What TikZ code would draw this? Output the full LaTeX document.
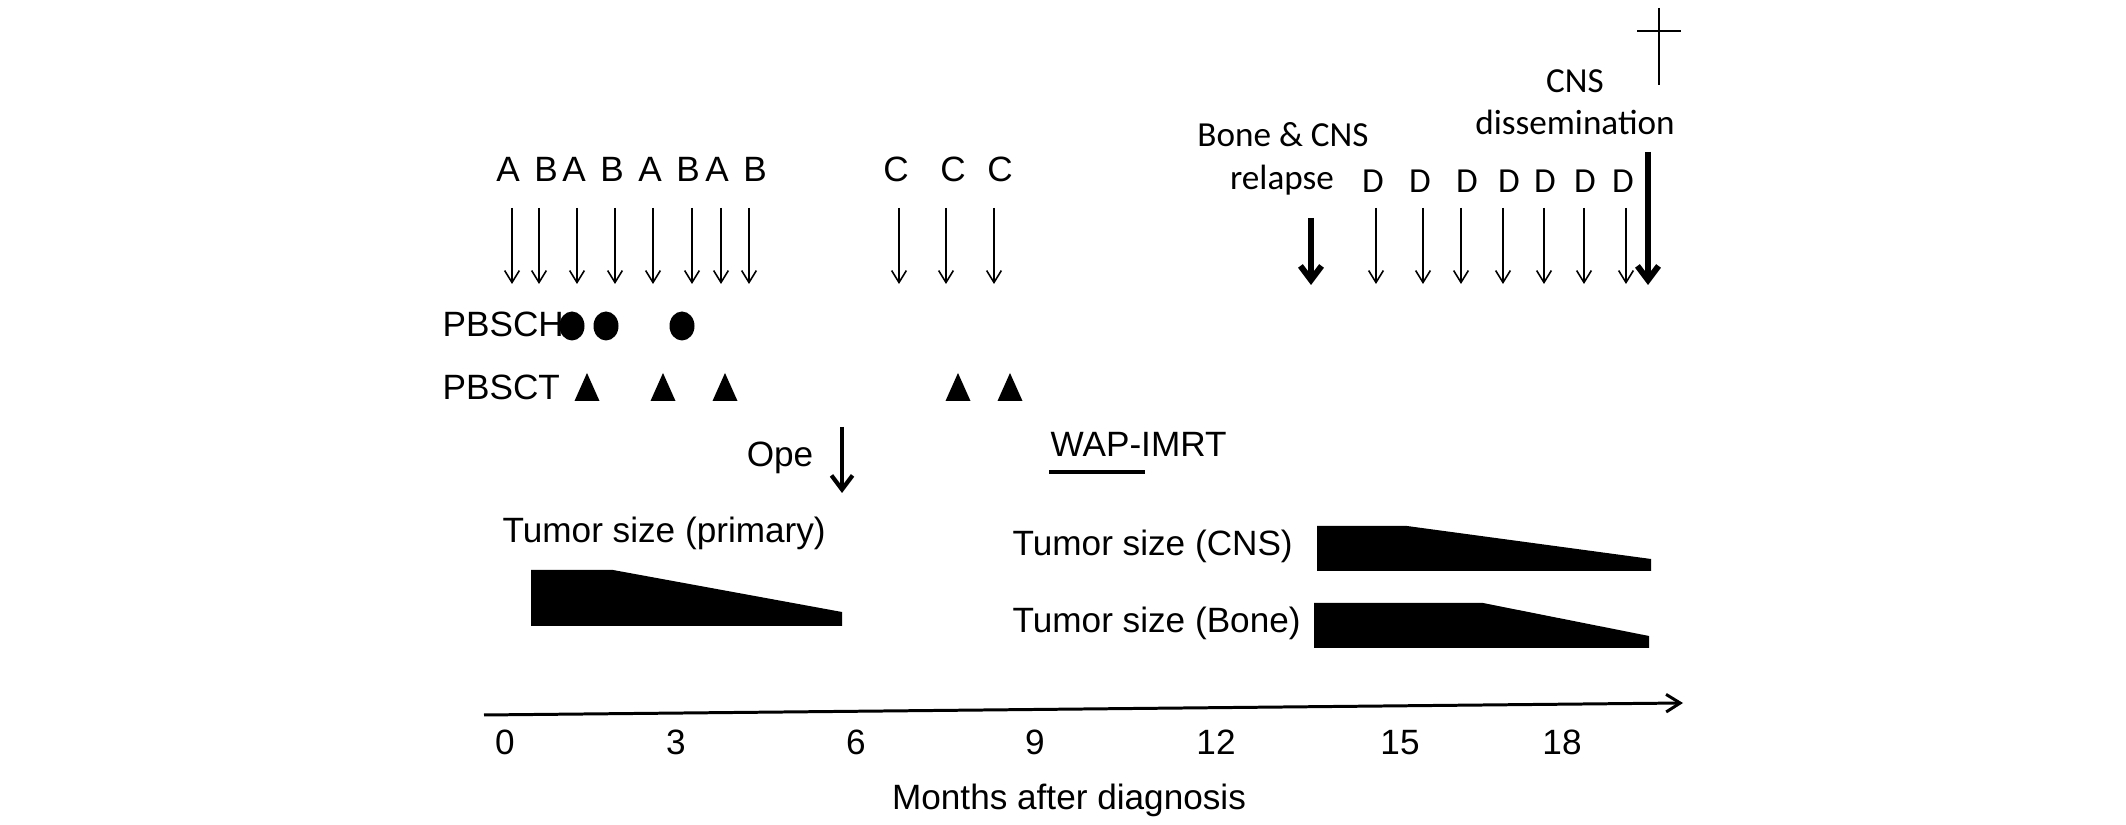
\documentclass[tikz,border=0pt]{standalone}
\usepackage{fontspec}
\setmainfont{Liberation Sans}
\newfontfamily\calib{Carlito}
\usetikzlibrary{arrows.meta}

\begin{document}
\begin{tikzpicture}[x=0.01cm,y=-0.01cm,
		every node/.style={inner sep=0pt,anchor=base,font=\fontsize{10}{12}\selectfont},
		cal/.style={font=\calib\fontsize{10}{12}\selectfont},
		dose/.style={line width=0.45pt,-{Straight Barb[length=3.4pt,width=4.2pt]}},
		event/.style={line width=1.7pt,-{Straight Barb[length=4pt,width=6pt]}},
		tumor/.style={fill=black}]
	\useasboundingbox (0,0) rectangle (2126,825);

	% chemotherapy courses
	\foreach \lx/\ax/\l [count=\i] in {508/512/A,546/539/B,574/577/A,612/615/B,650/653/A,688/692/B,717/721/A,755/749/B,896/899/C,953/946/C,1000/994/C}{
		\node (crs\i) at (\lx,182) {\l};
		\draw[dose] (\ax,208) -- (\ax,284);
	}
	\foreach \lx/\ax [count=\i] in {1373/1376,1420/1423,1467/1461,1509/1503,1545/1544,1585/1584,1623/1626}{
		\node[cal] (dcrs\i) at (\lx,193) {D};
		\draw[dose] (\ax,208) -- (\ax,284);
	}

	% relapse and dissemination
	\node[cal] (bcr)	at (1283,147)	{Bone \& CNS};
	\node[cal] (rel)	at (1282,190)	{relapse};
	\node[cal] (cns)	at (1575,93)	{CNS};
	\node[cal] (dis)	at (1575,135)	{dissemination};
	\coordinate (relt) at (1311,218);
	\coordinate (relh) at (1311,285);
	\coordinate (dist) at (1648,152);
	\coordinate (dish) at (1648,285);
	\draw[event] (relt) -- (relh);
	\draw[event] (dist) -- (dish);
	\draw[line width=0.6pt] (1659,8) -- (1659,85) (1637,31) -- (1681,31);

	% stem cell harvest / transplant
	\node[anchor=base west] (pbsch) at (442,337) {PBSCH};
	\node[anchor=base west] (pbsct) at (442,400) {PBSCT};
	\foreach \x in {572,606,682}
		\fill (\x,326) ellipse [x radius=12.5,y radius=14.5];
	\foreach \x in {587,663,725,958,1010}
		\fill (\x-12.5,401) -- (\x+12.5,401) -- (\x,373) -- cycle;

	% operation and radiotherapy
	\node (ope) at (780,467) {Ope};
	\coordinate (opet) at (842,427);
	\coordinate (opeh) at (842,493);
	\draw[line width=1.2pt,-{Straight Barb[length=4pt,width=6pt]}] (opet) -- (opeh);
	\node[anchor=base west] (wap) at (1050,457) {WAP-IMRT};
	\draw[line width=1.4pt] (1049,472) -- (1145,472);

	% tumor size
	\node[anchor=base west] (tprim) at (502,543) {Tumor size (primary)};
	\node[anchor=base west] (tcns) at (1012,556) {Tumor size (CNS)};
	\node[anchor=base west] (tbone) at (1012,633) {Tumor size (Bone)};
	\fill[tumor] (531,570) -- (613,570) -- (842,612) -- (842,626) -- (531,626) -- cycle;
	\fill[tumor] (1317,526) -- (1407,526) -- (1651,559) -- (1651,571) -- (1317,571) -- cycle;
	\fill[tumor] (1314,603) -- (1483,603) -- (1649,636) -- (1649,648) -- (1314,648) -- cycle;

	% time axis
	\coordinate (ax0) at (484,715);
	\coordinate (ax1) at (1683,703);
	\draw[line width=0.85pt,-{Straight Barb[length=4pt,width=5pt]}] (ax0) -- (ax1);
	\foreach \x/\m in {505/0,676/3,856/6,1035/9,1216/12,1400/15,1562/18}
		\node (m\m) at (\x,755) {\m};
	\node (mlab) at (1069,810) {Months after diagnosis};
\end{tikzpicture}
\end{document}
